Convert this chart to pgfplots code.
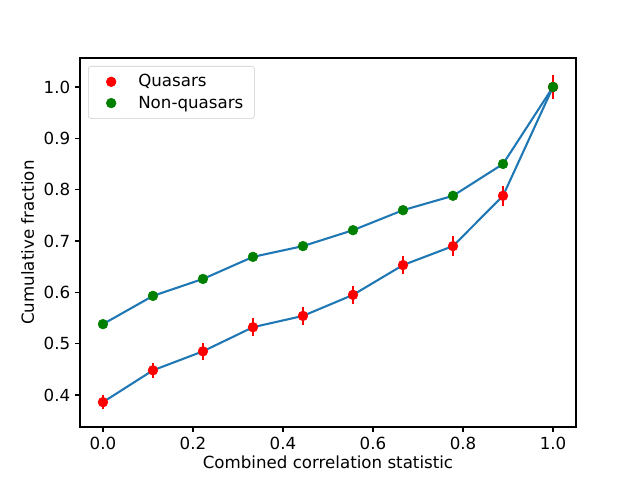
\documentclass[border=0pt]{standalone}
\usepackage{pgfplots}
\pgfplotsset{compat=1.18}
\usepackage{fontspec}
\setmainfont{DejaVu Sans}
\definecolor{mplblue}{HTML}{1F77B4}
\definecolor{mplgreen}{rgb}{0,0.5,0}
\pgfplotsset{mpllegimg/.style={legend image code/.code={\path[draw=none,fill=none] (0pt,-3pt) rectangle (28pt,3pt); \draw[mark repeat=2,mark phase=2] plot coordinates {(0pt,0pt)(13pt,0pt)(26pt,0pt)};}}}
\begin{document}
\begin{tikzpicture}[x=1pt,y=1pt]
\path[use as bounding box] (0,0) rectangle (460.8,345.6);
\begin{axis}[
  at={(57.6pt,38.16pt)}, anchor=south west,
  scale only axis, width=357.1pt, height=265.7pt,
  xmin=-0.051, xmax=1.051, ymin=0.3376, ymax=1.0565,
  xtick={0,0.2,0.4,0.6,0.8,1.0},
  ytick={0.4,0.5,0.6,0.7,0.8,0.9,1.0},
  xticklabel style={/pgf/number format/.cd, fixed, fixed zerofill, precision=1},
  yticklabel style={/pgf/number format/.cd, fixed, fixed zerofill, precision=1},
  /pgf/number format/assume math mode=true,
  tick align=outside, major tick length=3.5pt,
  tick style={black, line width=0.8pt},
  axis line style={line width=0.8pt},
  tick label style={font=\fontsize{12}{14}\selectfont},
  label style={font=\fontsize{12}{14}\selectfont},
  xlabel={Combined correlation statistic},
  ylabel={Cumulative fraction},
  xlabel style={yshift=2pt},
  xtick pos=bottom, ytick pos=left,
  legend style={at={(0,1)}, anchor=north west, xshift=5.76pt, yshift=-5.76pt,
    draw=black!20, rounded corners=2pt, font=\fontsize{12}{14}\selectfont,
    inner xsep=3.5pt, inner ysep=3.5pt, row sep=0pt,
    nodes={inner xsep=4.5pt, inner ysep=2.5pt}},
  legend cell align=left,
]
\addplot[only marks, mark=*, mark size=3.5pt, color=red, mpllegimg,
  error bars/.cd, y dir=both, y explicit, error mark=none,
  error bar style={red, line width=1.5pt}]
  table[x=x, y=y, y error=e] {
x y e
0.0000 0.386 0.014
0.1111 0.448 0.015
0.2222 0.485 0.016
0.3333 0.532 0.017
0.4444 0.554 0.017
0.5556 0.595 0.018
0.6667 0.653 0.018
0.7778 0.690 0.019
0.8889 0.788 0.020
1.0000 1.000 0.023
};
\addlegendentry{Quasars}
\addplot[only marks, mark=*, mark size=3.5pt, color=mplgreen, mpllegimg]
  table[x=x, y=y] {
x y
0.0000 0.538
0.1111 0.593
0.2222 0.626
0.3333 0.669
0.4444 0.690
0.5556 0.721
0.6667 0.760
0.7778 0.788
0.8889 0.850
1.0000 1.000
};
\addlegendentry{Non-quasars}
\addplot[mplblue, line width=1.5pt, no marks, forget plot] table[x=x, y=y] {
x y
0.0000 0.386
0.1111 0.448
0.2222 0.485
0.3333 0.532
0.4444 0.554
0.5556 0.595
0.6667 0.653
0.7778 0.690
0.8889 0.788
1.0000 1.000
};
\addplot[mplblue, line width=1.5pt, no marks, forget plot] table[x=x, y=y] {
x y
0.0000 0.538
0.1111 0.593
0.2222 0.626
0.3333 0.669
0.4444 0.690
0.5556 0.721
0.6667 0.760
0.7778 0.788
0.8889 0.850
1.0000 1.000
};
\end{axis}
\end{tikzpicture}
\end{document}
